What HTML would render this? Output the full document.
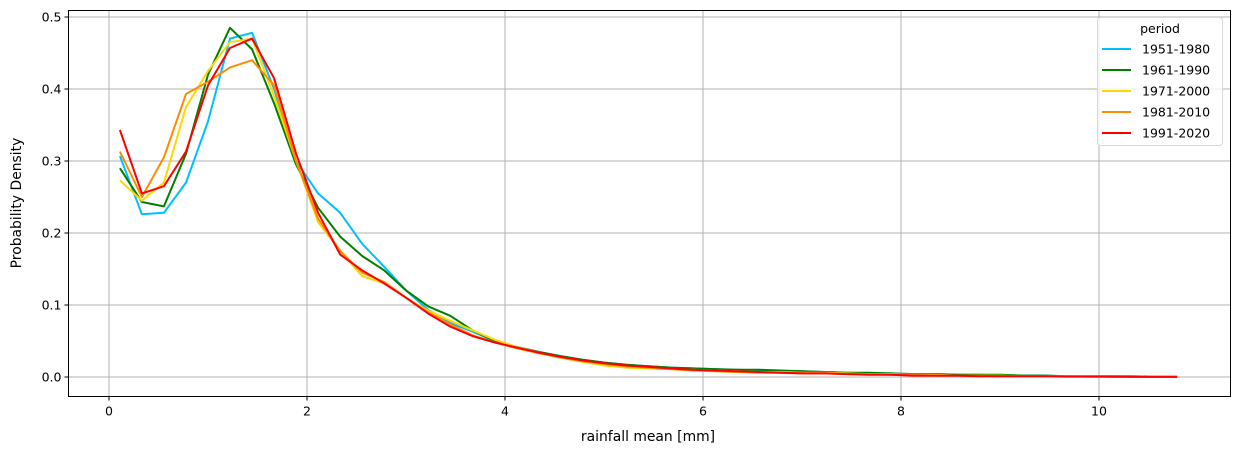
<!DOCTYPE html>
<html><head><meta charset="utf-8"><style>
body{margin:0;background:#fff;font-family:"DejaVu Sans","Liberation Sans",sans-serif}
svg text{font-family:"DejaVu Sans","Liberation Sans",sans-serif}
</style></head><body>
<svg id="chart" width="1239" height="454" xmlns="http://www.w3.org/2000/svg">
<g id="grid"></g>
<g id="series"></g>
<rect x="68.5" y="10.5" width="1162" height="386" fill="none" stroke="#000" stroke-width="1"/>
<g id="ticks"></g>
<text x="648" y="441" font-size="13.9" text-anchor="middle">rainfall mean [mm]</text>
<text transform="translate(21,203) rotate(-90)" font-size="13.9" text-anchor="middle">Probability Density</text>
<g id="legend"></g>
</svg>
<script>
const xStart = 0.11, xEnd = 10.79;
const xTicks = [0,2,4,6,8,10];
const yTicks = [0.0,0.1,0.2,0.3,0.4,0.5];
const seriesNames = ["1951-1980","1961-1990","1971-2000","1981-2010","1991-2020"];
const seriesColors = ["#00bfff","#008000","#ffd700","#ff8c00","#ff0000"];
const s1951 = [0.307,0.226,0.228,0.27,0.355,0.47,0.478,0.40,0.30,0.255,0.228,0.185,0.153,0.12,0.093,0.075,0.063,0.050,0.042,0.035,0.029,0.024,0.020,0.017,0.015,0.013,0.012,0.011,0.010,0.009,0.008,0.008,0.007,0.006,0.005,0.005,0.004,0.004,0.003,0.003,0.002,0.002,0.002,0.001,0.001,0.001,0.001,0.0005,0.0003];
const s1961 = [0.29,0.243,0.237,0.31,0.42,0.485,0.455,0.38,0.295,0.235,0.195,0.168,0.148,0.12,0.098,0.085,0.065,0.050,0.042,0.035,0.029,0.024,0.020,0.017,0.015,0.013,0.012,0.011,0.010,0.010,0.009,0.008,0.007,0.006,0.006,0.005,0.004,0.004,0.003,0.003,0.003,0.002,0.002,0.001,0.001,0.001,0.001,0.0005,0.0003];
const s1971 = [0.273,0.245,0.27,0.375,0.425,0.465,0.47,0.39,0.30,0.215,0.175,0.14,0.13,0.11,0.092,0.078,0.065,0.052,0.042,0.034,0.027,0.021,0.016,0.013,0.012,0.011,0.010,0.009,0.008,0.007,0.007,0.006,0.006,0.005,0.004,0.004,0.003,0.003,0.002,0.002,0.002,0.001,0.001,0.001,0.001,0.0005,0.0005,0.0003,0.0002];
const s1981 = [0.313,0.25,0.305,0.393,0.41,0.43,0.44,0.405,0.30,0.22,0.175,0.145,0.132,0.11,0.09,0.073,0.058,0.048,0.040,0.033,0.027,0.022,0.018,0.015,0.013,0.011,0.009,0.008,0.007,0.006,0.006,0.005,0.005,0.004,0.004,0.003,0.003,0.002,0.002,0.002,0.001,0.001,0.001,0.001,0.0005,0.0005,0.0003,0.0002,0.0001];
const s1991 = [0.343,0.255,0.265,0.313,0.405,0.457,0.47,0.415,0.31,0.228,0.17,0.148,0.13,0.11,0.088,0.07,0.057,0.048,0.041,0.034,0.028,0.023,0.019,0.016,0.014,0.012,0.010,0.009,0.008,0.007,0.006,0.005,0.005,0.004,0.003,0.003,0.002,0.002,0.002,0.001,0.001,0.001,0.001,0.0005,0.0005,0.0003,0.0002,0.0001,0.0001];
const allSeries = [s1951,s1961,s1971,s1981,s1991];

const NS="http://www.w3.org/2000/svg";
const X0=68.5,X1=1230.5,Y0=10.5,Y1=396.5;
function xs(v){return 109+v*99;}
function ys(v){return 377-v*720;}
function mk(tag,attrs,parent){const e=document.createElementNS(NS,tag);for(const k in attrs)e.setAttribute(k,attrs[k]);document.getElementById(parent).appendChild(e);return e;}

xTicks.forEach(t=>{
  const x=xs(t);
  const g=mk('line',{x1:x,x2:x,y1:Y0,y2:Y1,stroke:'#b0b0b0','stroke-width':1},'grid');
  
  
  const tk=mk('line',{x1:x,x2:x,y1:Y1,y2:Y1+4,stroke:'#000'},'ticks');
  
  
  const tx=mk('text',{x:x,y:Y1+19,'font-size':12.5,'text-anchor':'middle'},'ticks');
  tx.textContent=t;
  
  
});
yTicks.forEach(t=>{
  const y=ys(t);
  const g=mk('line',{x1:X0,x2:X1,y1:y,y2:y,stroke:'#b0b0b0','stroke-width':1},'grid');
  
  
  const tk=mk('line',{x1:X0-4,x2:X0,y1:y,y2:y,stroke:'#000'},'ticks');
  
  
  const tx=mk('text',{x:X0-7,y:y+4.5,'font-size':12.5,'text-anchor':'end'},'ticks');
  tx.textContent=t.toFixed(1);
  
  
});
allSeries.forEach((s,i)=>{
  const n=s.length;
  const pts=s.map((v,j)=>xs(xStart+(xEnd-xStart)*j/(n-1)).toFixed(1)+','+ys(v).toFixed(1)).join(' ');
  const p=mk('polyline',{points:pts,fill:'none',stroke:seriesColors[i],'stroke-width':2,'stroke-linejoin':'round'},'series');
  
  
});
const box=mk('rect',{x:1097.5,y:17.5,width:125,height:128,rx:3,fill:'#fff','fill-opacity':0.8,stroke:'#d8d8d8'},'legend');


const lt=mk('text',{x:1160,y:33,'font-size':12.5,'text-anchor':'middle'},'legend');
lt.textContent='period';


seriesNames.forEach((nm,i)=>{
  const y=49+i*21;
  const l=mk('line',{x1:1102,x2:1131,y1:y,y2:y,stroke:seriesColors[i],'stroke-width':2},'legend');
  
  
  const t=mk('text',{x:1142,y:y+4.5,'font-size':12.5},'legend');
  t.textContent=nm;
  
  
});
</script>
</body></html>
